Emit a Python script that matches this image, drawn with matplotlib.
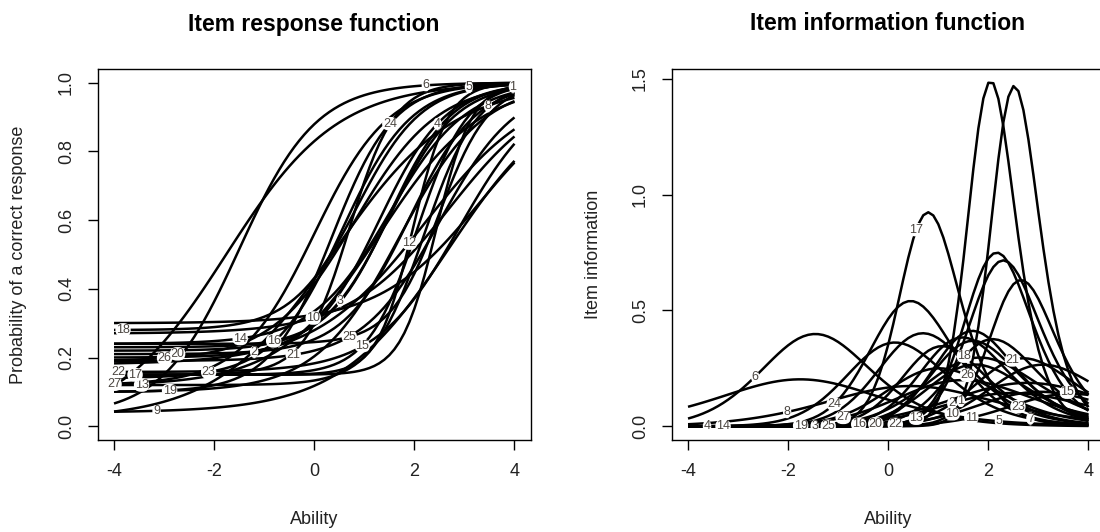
import numpy as np
import matplotlib
matplotlib.use("Agg")
import matplotlib.pyplot as plt

plt.rcParams['font.family'] = ['Liberation Sans', 'DejaVu Sans']

# ---- data: 3PL item parameters (discrimination a, difficulty b, guessing c) ----
items = list(range(1, 28))
a_par = [2.80, 0.90, 1.50, 1.50, 0.90, 1.30, 1.35, 0.85, 0.90, 1.00,
         1.00, 2.82, 1.90, 1.30, 2.00, 1.60, 2.22, 1.54, 1.20, 1.50,
         1.30, 1.20, 1.45, 1.62, 2.00, 1.20, 1.00]
b_par = [2.44, 2.20, 1.50, 1.30, -1.76, -1.50, 0.00, 0.40, 2.70, 2.70,
         3.30, 1.97, 2.20, 1.50, 2.06, 1.50, 0.70, 0.86, 1.70, 1.90,
         2.50, 2.90, 0.55, 0.35, 2.50, 0.80, 1.30]
c_par = [0.15, 0.18, 0.22, 0.20, 0.00, 0.03, 0.12, 0.02, 0.04, 0.27,
         0.30, 0.15, 0.12, 0.24, 0.15, 0.23, 0.15, 0.28, 0.10, 0.21,
         0.19, 0.158, 0.14, 0.10, 0.24, 0.19, 0.118]

# ability positions where each item's label sits (None = label not shown)
lab_theta_irf = [3.97, -1.20, 0.52, 2.46, 3.09, 2.23, None, 3.47, -3.15, -0.02,
                 None, 1.90, -3.45, -1.48, 0.96, -0.81, -3.58, -3.82, -2.89, -2.73,
                 -0.42, -3.92, -2.11, 1.51, 0.70, -2.99, -4.00]
lab_theta_iif = [1.45, 1.26, -1.47, -3.62, 2.21, -2.66, 2.84, -2.02, None, 1.28,
                 1.66, None, 0.56, -3.30, 3.58, -0.59, 0.56, 1.52, -1.75, -0.25,
                 2.48, 0.14, 2.59, -1.08, -1.20, 1.58, -0.90]

x_ticks = [-4, -2, 0, 2, 4]
y_ticks_irf = [0.0, 0.2, 0.4, 0.6, 0.8, 1.0]
y_ticks_iif = [0.0, 0.5, 1.0, 1.5]

theta = np.linspace(-4, 4, 81)


def irf(t, a, b, c):
    return c + (1 - c) / (1 + np.exp(-a * (np.asarray(t) - b)))


def iif(t, a, b, c):
    p = irf(t, a, b, c)
    return a ** 2 * (p - c) ** 2 * (1 - p) / ((1 - c) ** 2 * p)


W, H = 1100, 532
fig = plt.figure(figsize=(W / 100, H / 100), dpi=100)

box_y0, box_y1 = 69, 440
def axpos(x0, x1):
    return [x0 / W, 1 - box_y1 / H, (x1 - x0) / W, (box_y1 - box_y0) / H]

ax1 = fig.add_axes(axpos(98, 530.5))
ax2 = fig.add_axes(axpos(672, 1104.5))

lw = 1.8
lab_kw = dict(fontsize=9, color='#4a4540', ha='center', va='center', zorder=100,
              bbox=dict(boxstyle='round,pad=0.06,rounding_size=0.55', fc='white', ec='none'))

all_info = []
for i, it in enumerate(items):
    a, b, c = a_par[i], b_par[i], c_par[i]
    p = irf(theta, a, b, c)
    inf = iif(theta, a, b, c)
    all_info.append(inf)
    ax1.plot(theta, p, color='black', lw=lw, zorder=2, solid_capstyle='butt')
    ax2.plot(theta, inf, color='black', lw=lw, zorder=2, solid_capstyle='butt')

for i, it in enumerate(items):
    a, b, c = a_par[i], b_par[i], c_par[i]
    if lab_theta_irf[i] is not None:
        t = lab_theta_irf[i]
        ax1.text(t, float(irf(t, a, b, c)), str(it), **lab_kw)
    if lab_theta_iif[i] is not None:
        t = lab_theta_iif[i]
        ax2.text(t, float(iif(t, a, b, c)), str(it), **lab_kw)

all_info = np.concatenate(all_info)
lo, hi = all_info.min(), all_info.max()
r = hi - lo

ax1.set_xlim(-4.32, 4.32)
ax1.set_ylim(-0.04, 1.04)
ax2.set_xlim(-4.32, 4.32)
ax2.set_ylim(lo - 0.04 * r, hi + 0.04 * r)

for ax, yt in ((ax1, y_ticks_irf), (ax2, y_ticks_iif)):
    ax.set_xticks(x_ticks)
    ax.set_xticklabels([str(v) for v in x_ticks])
    ax.set_yticks(yt)
    ax.set_yticklabels([f"{v:.1f}" for v in yt], rotation=90, va='center')
    ax.tick_params(axis='both', direction='out', length=7.5, width=1.0,
                   labelsize=13, pad=9, color='black', labelcolor='#222222')
    for s in ax.spines.values():
        s.set_linewidth(1.0)
        s.set_color('black')

# titles and axis labels
fig.text(314 / W, 1 - 24 / H, "Item response function", ha='center', va='center',
         fontsize=16.5, fontweight='bold')
fig.text(888 / W, 1 - 24 / H, "Item information function", ha='center', va='center',
         fontsize=16.5, fontweight='bold')
fig.text(314 / W, 1 - 519 / H, "Ability", ha='center', va='center', fontsize=13, color='#222222')
fig.text(888 / W, 1 - 519 / H, "Ability", ha='center', va='center', fontsize=13, color='#222222')
fig.text(19 / W, 1 - 254.5 / H, "Probability of a correct response", ha='center', va='center',
         rotation=90, fontsize=13, color='#222222')
fig.text(594 / W, 1 - 254.5 / H, "Item information", ha='center', va='center',
         rotation=90, fontsize=13, color='#222222')

fig.savefig("out.png", dpi=100)
